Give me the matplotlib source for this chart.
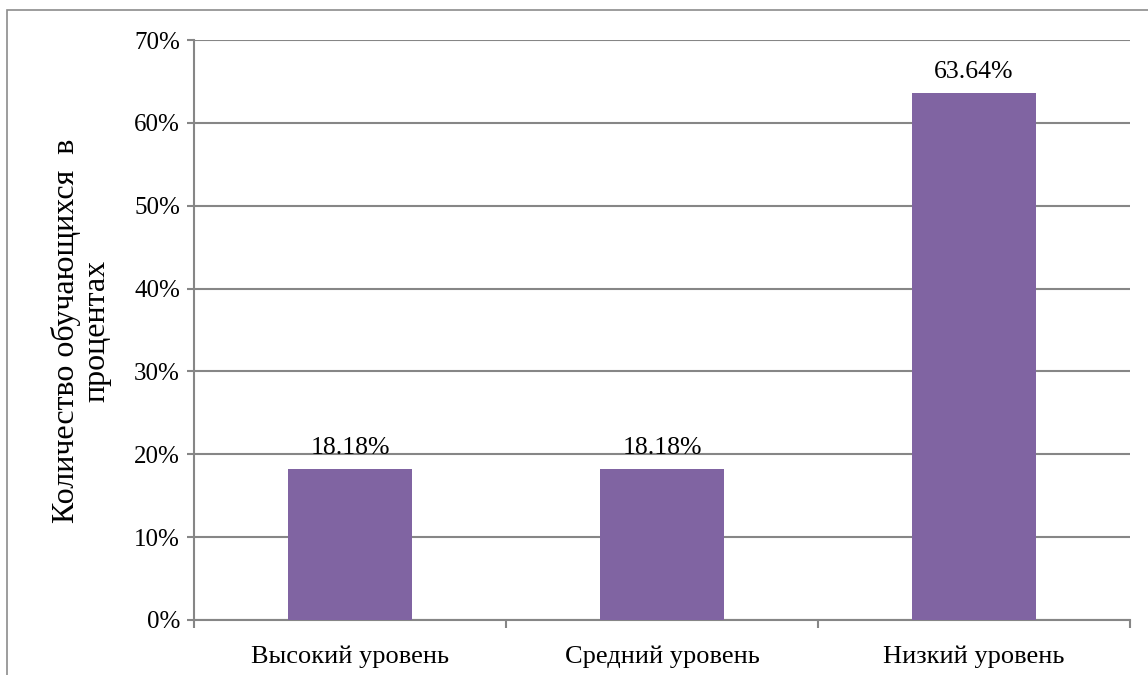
import matplotlib
matplotlib.use('Agg')
import matplotlib.pyplot as plt
from matplotlib.patches import Rectangle
from matplotlib.ticker import FixedLocator, PercentFormatter

categories = ['Высокий уровень', 'Средний уровень', 'Низкий уровень']
values = [18.18, 18.18, 63.64]
value_labels = ['18.18%', '18.18%', '63.64%']
y_ticks = [0, 10, 20, 30, 40, 50, 60, 70]

plt.rcParams['font.family'] = ['Liberation Serif', 'DejaVu Serif']

bar_color = '#8064A2'
grid_color = '#868686'

fig = plt.figure(figsize=(11.48, 6.75), dpi=100)
ax = fig.add_axes([194 / 1148, 55 / 675, (1130 - 194) / 1148, (620 - 40) / 675])

# outer chart frame (cut off at right and bottom like in the original)
fig.patches.append(Rectangle((7 / 1148, -0.1), 1.2, 1.1 - 10 / 675,
                             transform=fig.transFigure, fill=False,
                             edgecolor='#8c8c8c', linewidth=1.2))

x = list(range(len(categories)))
bars = ax.bar(x, values, width=0.4, color=bar_color, zorder=3)

for xi, v, lab in zip(x, values, value_labels):
    ax.text(xi, v + 1.2, lab, ha='center', va='bottom', fontsize=18.5)

ax.set_xlim(-0.5, 2.5)
ax.set_ylim(0, 70)
ax.set_yticks(y_ticks)
ax.yaxis.set_major_formatter(PercentFormatter(decimals=0))
ax.grid(axis='y', color=grid_color, linewidth=1.5, zorder=0)

# category boundary ticks, labels at centres
ax.xaxis.set_major_locator(FixedLocator([-0.5, 0.5, 1.5, 2.5]))
ax.xaxis.set_major_formatter(plt.NullFormatter())
ax.xaxis.set_minor_locator(FixedLocator(x))
ax.set_xticklabels(categories, minor=True, fontsize=19)
ax.tick_params(axis='x', which='minor', length=0, pad=18)
ax.tick_params(axis='x', which='major', length=6, width=1.5, color=grid_color)
ax.tick_params(axis='y', length=5, width=1.5, color=grid_color, labelsize=18, pad=5)

for s in ['top', 'right']:
    ax.spines[s].set_visible(False)
for s in ['left', 'bottom']:
    ax.spines[s].set_color(grid_color)
    ax.spines[s].set_linewidth(1.5)

fig.text(81 / 1148, 1 - 331 / 675, 'Количество обучающихся  в\nпроцентах',
         rotation=90, ha='center', va='center', multialignment='center',
         fontsize=23, linespacing=1.05)

fig.savefig('out.png', dpi=100)
